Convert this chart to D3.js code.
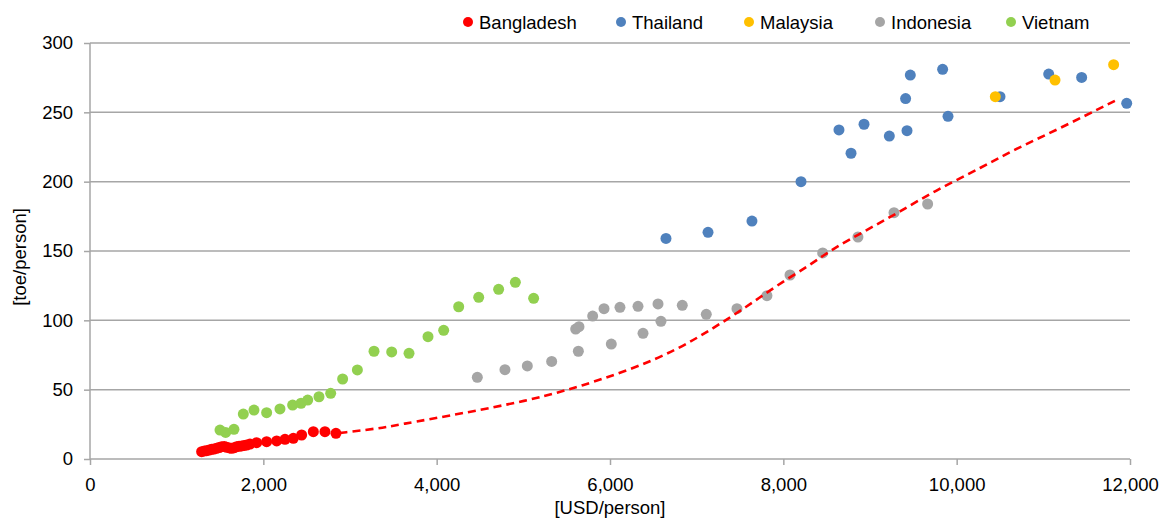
<!DOCTYPE html>
<html><head><meta charset="utf-8">
<script src="https://cdn.jsdelivr.net/npm/d3@7"></script>
<style>body{margin:0;background:#fff}svg{display:block}text{font-family:"Liberation Sans",Arial,sans-serif;fill:#000}</style>
</head><body><svg id="c" width="1164" height="520"></svg>
<script>
const bangladeshX = [1288,1320,1346,1375,1404,1430,1461,1490,1519,1550,1577,1610,1635,1665,1692,1720,1750,1780,1808,1846,1923,2038,2154,2250,2346,2442,2577,2711,2838];
const bangladeshY = [5.3,5.8,6.0,6.5,7.0,7.2,7.7,8.3,8.9,9.1,8.4,8.0,7.7,8.2,8.9,9.2,9.4,9.8,10.1,10.8,11.8,12.5,13.0,14.2,14.9,17.3,19.7,19.7,18.5];
const thailandX = [6646,7131,7638,8204,8642,8781,8931,9223,9427,9411,9465,9838,9900,10500,11062,11442,11962];
const thailandY = [159.1,163.5,171.6,200,237.3,220.5,241.4,232.9,236.8,259.9,276.9,281,247.1,261.3,277.6,275.2,256.5];
const malaysiaX = [10446,11135,11811];
const malaysiaY = [261.3,273.3,284.4];
const indonesiaX = [4469,4788,5046,5327,5635,5604,5642,5800,5931,6115,6323,6554,6588,6381,6015,6834,7111,7465,7811,8077,8454,8861,9277,9665];
const indonesiaY = [58.9,64.4,67.1,70.4,77.7,93.7,95.4,103.1,108.4,109.4,110.1,111.8,99.3,90.6,82.9,110.8,104.3,108.4,117.8,132.7,148.6,160.1,177.6,183.9];
const vietnamX = [1500,1565,1661,1769,1892,2038,2192,2338,2435,2512,2642,2777,2915,3085,3277,3481,3681,3900,4081,4254,4485,4715,4908,5119];
const vietnamY = [20.9,19.2,21.4,32.4,35.3,33.4,36.1,38.9,40.2,42.5,44.9,47.4,57.7,64.2,77.7,77.2,76.2,88.2,92.8,109.8,116.6,122.4,127.4,115.9];
const trendX = [2880,3346,3538,4308,5077,5423,5615,6231,6769,7192,7577,7904,8308,8577,8962,9346,9731,10308,10654,11154,11846];
const trendY = [18.8,22.1,24.5,33.0,42.5,48.5,51.7,64.2,78.6,94.3,109.8,124.3,139.9,151.9,165.1,178.4,192.8,210.9,222.8,237.3,258.9];
const xTicks = [0,2000,4000,6000,8000,10000,12000];
const yTicks = [0,50,100,150,200,250,300];
const seriesNames = ["Bangladesh","Thailand","Malaysia","Indonesia","Vietnam"];
const seriesColors = ["#ff0000","#4f81bd","#ffc000","#a5a5a5","#92d050"];

const series = [
  {name:"Bangladesh",xs:bangladeshX,ys:bangladeshY},
  {name:"Thailand",xs:thailandX,ys:thailandY},
  {name:"Malaysia",xs:malaysiaX,ys:malaysiaY},
  {name:"Indonesia",xs:indonesiaX,ys:indonesiaY},
  {name:"Vietnam",xs:vietnamX,ys:vietnamY}
];
const color = d3.scaleOrdinal().domain(seriesNames).range(seriesColors);

const svg = d3.select("#c");
const m = {l:90,r:1130,t:43,b:459};
const x = d3.scaleLinear().domain([0,12000]).range([m.l,m.r]);
const y = d3.scaleLinear().domain([0,300]).range([m.b,m.t]);
const gridC = "#a6a6a6";

svg.append("g").selectAll("line").data(yTicks.filter(d=>d>0)).join("line")
  .attr("x1",m.l).attr("x2",m.r).attr("y1",d=>y(d)).attr("y2",d=>y(d))
  .attr("stroke",gridC).attr("stroke-width",1.5);

const fmt = d3.format(",");
const yAxis = svg.append("g").attr("transform",`translate(${m.l},0)`)
  .call(d3.axisLeft(y).tickValues(yTicks).tickSize(6).tickPadding(11).tickFormat(d=>d));
const xAxis = svg.append("g").attr("transform",`translate(0,${m.b})`)
  .call(d3.axisBottom(x).tickValues(xTicks).tickSize(6).tickPadding(13).tickFormat(fmt));
[yAxis,xAxis].forEach(a=>{
  a.select(".domain").attr("stroke",gridC).attr("stroke-width",1.5);
  a.selectAll(".tick line").attr("stroke",gridC).attr("stroke-width",1.5);
  a.selectAll("text").style("font-size","18.5px").style("font-family","'Liberation Sans',Arial,sans-serif").attr("fill","#000");
});
yAxis.select(".domain").attr("d",`M0,${m.t}V${m.b}`);
xAxis.select(".domain").attr("d",`M${m.l},0H${m.r}`);

series.forEach(s=>{
  svg.append("g").selectAll("circle").data(s.xs.map((v,i)=>[v,s.ys[i]])).join("circle")
    .attr("cx",d=>x(d[0])).attr("cy",d=>y(d[1])).attr("r",5.5)
    .attr("fill",color(s.name));
});

svg.append("path").datum(trendX.map((v,i)=>[v,trendY[i]]))
  .attr("d",d3.line().x(d=>x(d[0])).y(d=>y(d[1])).curve(d3.curveBasis))
  .attr("fill","none").attr("stroke","#ff0000").attr("stroke-width",2.6)
  .attr("stroke-dasharray","8,5");

svg.append("text").attr("x",610).attr("y",514).attr("text-anchor","middle")
  .style("font-size","18.5px").text("[USD/person]");
svg.append("text").attr("transform","translate(26,257) rotate(-90)").attr("text-anchor","middle")
  .style("font-size","18.5px").text("[toe/person]");

const legX = [468,621,749,880,1011];
const leg = svg.append("g");
seriesNames.forEach((n,i)=>{
  leg.append("circle").attr("cx",legX[i]).attr("cy",22).attr("r",5).attr("fill",color(n));
  leg.append("text").attr("x",legX[i]+11).attr("y",28.5).style("font-size","18.5px").text(n);
});
</script></body></html>
